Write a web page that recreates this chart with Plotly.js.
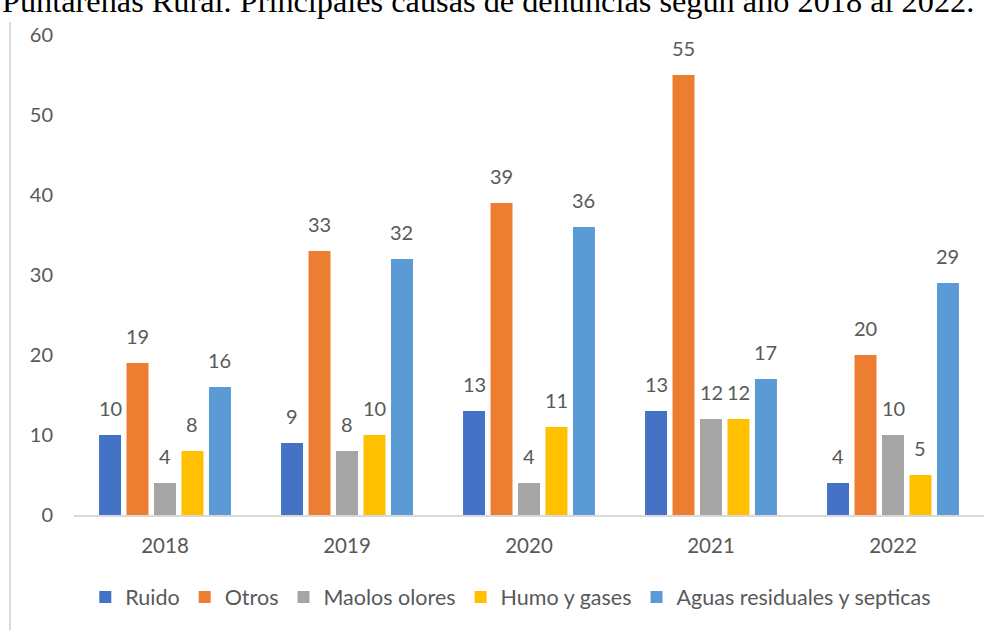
<!DOCTYPE html>
<html><head><meta charset="utf-8">
<script src="https://cdn.plot.ly/plotly-3.0.1.min.js"></script>
<style>html,body{margin:0;padding:0;background:#fff;}#chart{width:996px;height:630px;}</style>
</head><body><div id="chart"></div>
<script>
const years = ["2018","2019","2020","2021","2022"];
const seriesNames = ["Ruido","Otros","Maolos olores","Humo y gases","Aguas residuales y septicas"];
const ruido = [10,9,13,13,4];
const otros = [19,33,39,55,20];
const malosOlores = [4,8,4,12,10];
const humo = [8,10,11,12,5];
const aguas = [16,32,36,17,29];
const colors = ["#4472C4","#ED7D31","#A5A5A5","#FFC000","#5B9BD5"];
const allValues = [ruido, otros, malosOlores, humo, aguas];

const font = "Lato, Carlito, Calibri, sans-serif";
const txtColor = "#595959";

const traces = allValues.map((vals, i) => ({
  type: "bar", name: seriesNames[i], x: years, y: vals,
  marker: {color: colors[i]}, hoverinfo: "skip"
}));

// plot geometry for label offsets
const plotW = 910, nCat = years.length, bargap = 0.245;
const catW = plotW / nCat;
const slotW = catW * (1 - bargap) / allValues.length;
const annotations = [];
allValues.forEach((vals, i) => {
  vals.forEach((v, j) => {
    annotations.push({
      x: j, y: v, xref: "x", yref: "y", text: String(v), showarrow: false,
      xshift: (i - (allValues.length - 1) / 2) * slotW, yanchor: "bottom", yshift: 13,
      font: {family: font, size: 20, color: txtColor}
    });
  });
});
annotations.push({
  xref: "paper", yref: "paper", x: -0.0813, y: 1.071, xanchor: "left", yanchor: "middle",
  text: "Puntarenas Rural. Principales causas de denuncias según año 2018 al 2022.",
  showarrow: false, font: {family: "Liberation Serif, Times New Roman, serif", size: 32.3, color: "#000"}
});

const layout = {
  width: 996, height: 630,
  margin: {l: 74, r: 12, t: 35, b: 115},
  paper_bgcolor: "#fff", plot_bgcolor: "#fff",
  barmode: "group", bargap: bargap, bargroupgap: 0.2,
  showlegend: true,
  legend: {orientation: "h", x: 0.48, xanchor: "center", y: -0.171, yanchor: "middle",
    font: {family: font, size: 21.5, color: txtColor}, traceorder: "normal", itemwidth: 30},
  xaxis: {type: "category", showgrid: false, showline: true, linecolor: "#D9D9D9", linewidth: 1.5,
    ticks: "", ticklabelstandoff: 12, tickfont: {family: font, size: 20.5, color: txtColor}, fixedrange: true},
  yaxis: {range: [0, 60], dtick: 10, showgrid: false, zeroline: false, showline: false,
    ticks: "", ticklabelstandoff: 20, tickfont: {family: font, size: 20, color: txtColor}, fixedrange: true},
  annotations: annotations,
  shapes: [{type: "line", xref: "paper", yref: "paper", x0: -0.0703, x1: -0.0703, y0: 1.027, y1: -0.25,
    line: {color: "#D9D9D9", width: 2}}]
};
Plotly.newPlot("chart", traces, layout, {displayModeBar: false, staticPlot: true});
</script></body></html>
